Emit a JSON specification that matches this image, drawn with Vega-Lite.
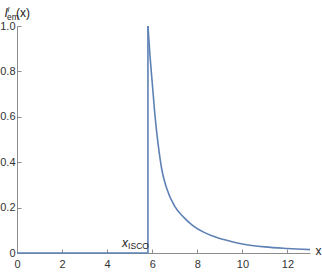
{
  "$schema": "https://vega.github.io/schema/vega-lite/v6.json",
  "width": 293,
  "height": 227,
  "autosize": {"type": "none"},
  "padding": {"left": 17, "top": 26, "right": 12, "bottom": 20},
  "background": "white",
  "config": {"view": {"stroke": null}, "font": "Liberation Sans"},
  "datasets": {
    "curve": [
      {"i": 0, "x": 0, "y": 0},
      {"i": 1, "x": 5.81, "y": 0},
      {"i": 2, "x": 5.81, "y": 1.0},
      {"i": 3, "x": 5.9, "y": 0.87},
      {"i": 4, "x": 6.0, "y": 0.75},
      {"i": 5, "x": 6.1, "y": 0.63},
      {"i": 6, "x": 6.2, "y": 0.53},
      {"i": 7, "x": 6.3, "y": 0.45},
      {"i": 8, "x": 6.42, "y": 0.37},
      {"i": 9, "x": 6.64, "y": 0.285},
      {"i": 10, "x": 7.0, "y": 0.205},
      {"i": 11, "x": 7.4, "y": 0.157},
      {"i": 12, "x": 7.8, "y": 0.121},
      {"i": 13, "x": 8.3, "y": 0.091},
      {"i": 14, "x": 8.9, "y": 0.067},
      {"i": 15, "x": 9.5, "y": 0.051},
      {"i": 16, "x": 10, "y": 0.04},
      {"i": 17, "x": 11, "y": 0.027},
      {"i": 18, "x": 12, "y": 0.02},
      {"i": 19, "x": 13, "y": 0.015}
    ]
  },
  "layer": [
    {
      "data": {"name": "curve"},
      "transform": [{"filter": "datum.i <= 2"}],
      "mark": {"type": "line", "color": "#5E81B5", "strokeWidth": 1.6, "clip": false},
      "encoding": {
        "x": {"field": "x", "type": "quantitative", "scale": {"domain": [0, 13], "nice": false},
          "axis": {"values": [0, 2, 4, 6, 8, 10, 12], "title": null, "grid": false, "domainColor": "#8c8c8c", "tickColor": "#8c8c8c", "tickSize": -4, "labelPadding": 9, "labelFontSize": 11, "labelColor": "#333", "labelFont": "Liberation Sans", "labelFlush": false}},
        "y": {"field": "y", "type": "quantitative", "scale": {"domain": [0, 1], "nice": false},
          "axis": {"values": [0, 0.2, 0.4, 0.6, 0.8, 1.0], "title": null, "grid": false, "domainColor": "#8c8c8c", "tickColor": "#8c8c8c", "tickSize": -4, "labelPadding": 6, "labelFontSize": 11, "labelColor": "#333", "labelFont": "Liberation Sans", "labelFlush": false, "labelExpr": "datum.value == 0 ? '0' : format(datum.value, '.1f')"}},
        "order": {"field": "i", "type": "quantitative"}
      }
    },
    {
      "data": {"name": "curve"},
      "transform": [{"filter": "datum.i >= 2"}],
      "mark": {"type": "line", "color": "#5E81B5", "strokeWidth": 1.6, "clip": false, "interpolate": "monotone"},
      "encoding": {
        "x": {"field": "x", "type": "quantitative"},
        "y": {"field": "y", "type": "quantitative"},
        "order": {"field": "i", "type": "quantitative"}
      }
    },
    {
      "data": {"values": [
        {"t": "I", "x": -0.55, "y": 1.04},
        {"t": "x", "x": 4.66, "y": 0.028}
      ]},
      "mark": {"type": "text", "align": "left", "baseline": "alphabetic", "fontSize": 12, "fontStyle": "italic", "color": "#222", "font": "Liberation Sans"},
      "encoding": {"x": {"field": "x", "type": "quantitative"}, "y": {"field": "y", "type": "quantitative"}, "text": {"field": "t"}}
    },
    {
      "data": {"values": [
        {"t": "(x)", "x": -0.04, "y": 1.04},
        {"t": "x", "x": 13.24, "y": -0.01}
      ]},
      "mark": {"type": "text", "align": "left", "baseline": "alphabetic", "fontSize": 12, "color": "#222", "font": "Liberation Sans"},
      "encoding": {"x": {"field": "x", "type": "quantitative"}, "y": {"field": "y", "type": "quantitative"}, "text": {"field": "t"}}
    },
    {
      "data": {"values": [
        {"t": "em", "x": -0.44, "y": 1.027},
        {"t": "ISCO", "x": 4.93, "y": 0.018}
      ]},
      "mark": {"type": "text", "align": "left", "baseline": "alphabetic", "fontSize": 8.5, "color": "#222", "font": "Liberation Sans"},
      "encoding": {"x": {"field": "x", "type": "quantitative"}, "y": {"field": "y", "type": "quantitative"}, "text": {"field": "t"}}
    },
    {
      "data": {"values": [
        {"t": "l", "x": -0.42, "y": 1.063}
      ]},
      "mark": {"type": "text", "align": "left", "baseline": "alphabetic", "fontSize": 8, "fontStyle": "italic", "color": "#222", "font": "Liberation Sans"},
      "encoding": {"x": {"field": "x", "type": "quantitative"}, "y": {"field": "y", "type": "quantitative"}, "text": {"field": "t"}}
    }
  ]
}
